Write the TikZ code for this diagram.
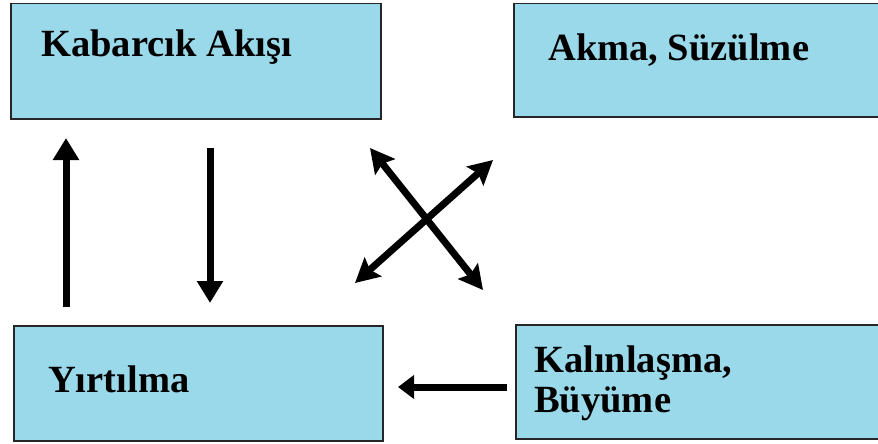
\documentclass[tikz,border=0pt]{standalone}
\usepackage{fontspec}
\setmainfont{Liberation Serif}
\usetikzlibrary{arrows.meta}
\definecolor{boxblue}{RGB}{153,217,234}
\begin{document}
\begin{tikzpicture}[x=1pt,y=-1pt,
  box/.style={draw=black!85, line width=1.5pt, fill=boxblue, rectangle, inner sep=0pt, anchor=north west},
  lbl/.style={font=\fontsize{38.5}{40}\selectfont\bfseries, anchor=base west, inner sep=0pt},
  vertarrow/.style={line width=7pt, -{Triangle[width=25pt,length=22pt]}},
  diagarrow/.style={line width=7pt, {Stealth[width=25pt,length=24pt,inset=4pt]}-{Stealth[width=25pt,length=24pt,inset=4pt]}},
  leftarrow/.style={line width=7pt, -{Triangle[width=23pt,length=16pt]}}]
\useasboundingbox (0,0) rectangle (878,444);
\clip (0,0) rectangle (878,444);
\node[box, minimum width=370pt, minimum height=115pt] (kab) at (10,3) {};
\node[box, minimum width=380pt, minimum height=113pt] (akma) at (513,3) {};
\node[box, minimum width=369pt, minimum height=115pt] (yirt) at (13,325) {};
\node[box, minimum width=380pt, minimum height=114pt] (kal) at (515,324) {};
\node[lbl] (tkab) at (41,57) {Kabarcık Akışı};
\node[lbl] (takma) at (548,60) {Akma, Süzülme};
\node[lbl] (tyirt) at (48,392) {Yırtılma};
\node[lbl] (tkal1) at (534,372) {Kalınlaşma,};
\node[lbl] (tkal2) at (534,412) {Büyüme};
\coordinate (ua) at (66,307);
\coordinate (ub) at (66,138);
\coordinate (da) at (210,148);
\coordinate (db) at (210,303);
\coordinate (xa) at (370,148);
\coordinate (xb) at (483,290);
\coordinate (ya) at (355,283);
\coordinate (yb) at (493,160);
\coordinate (la) at (507,387);
\coordinate (lb) at (398,387);
\draw[vertarrow] (ua) -- (ub);
\draw[vertarrow] (da) -- (db);
\draw[diagarrow] (xa) -- (xb);
\draw[diagarrow] (ya) -- (yb);
\draw[leftarrow] (la) -- (lb);
\end{tikzpicture}
\end{document}
